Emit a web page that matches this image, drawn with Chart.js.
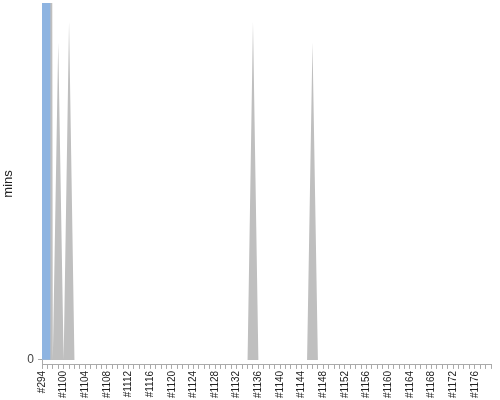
<!DOCTYPE html>
<html>
<head>
<meta charset="utf-8">
<script src="https://cdn.jsdelivr.net/npm/chart.js@4"></script>
<style>
  html, body { margin: 0; padding: 0; background: #fff; }
  #wrap { width: 500px; height: 400px; }
</style>
</head>
<body>
<div id="wrap"><canvas id="c" width="500" height="400"></canvas></div>
<script>
const builds = ['#294',
  '#1097','#1098','#1099','#1100','#1101','#1102','#1103','#1104','#1105','#1106',
  '#1107','#1108','#1109','#1110','#1111','#1112','#1113','#1114','#1115','#1116',
  '#1117','#1118','#1119','#1120','#1121','#1122','#1123','#1124','#1125','#1126',
  '#1127','#1128','#1129','#1130','#1131','#1132','#1133','#1134','#1135','#1136',
  '#1137','#1138','#1139','#1140','#1141','#1142','#1143','#1144','#1145','#1146',
  '#1147','#1148','#1149','#1150','#1151','#1152','#1153','#1154','#1155','#1156',
  '#1157','#1158','#1159','#1160','#1161','#1162','#1163','#1164','#1165','#1166',
  '#1167','#1168','#1169','#1170','#1171','#1172','#1173','#1174','#1175','#1176',
  '#1177','#1178','#1179'];

// gray area: build durations (mins)
const durationMins = [400,
  400,0,35.6,0,37.9,0,0,0,0,0,
  0,0,0,0,0,0,0,0,0,0,
  0,0,0,0,0,0,0,0,0,0,
  0,0,0,0,0,0,0,0,37.9,0,
  0,0,0,0,0,0,0,0,0,35.6,
  0,0,0,0,0,0,0,0,0,0,
  0,0,0,0,0,0,0,0,0,0,
  0,0,0,0,0,0,0,0,0,0,
  0,0,0];

// blue bar: current build (mins)
const currentMins = [400];

const yTicks = [0];
const yMax = 40;
const yMin = -0.565;

new Chart(document.getElementById('c'), {
  data: {
    labels: builds,
    datasets: [
      {
        type: 'bar',
        data: currentMins,
        backgroundColor: '#8eb4e1',
        borderWidth: 0,
        barThickness: 16,
        order: 0
      },
      {
        type: 'line',
        data: durationMins,
        backgroundColor: '#bfbfbf',
        borderWidth: 0,
        pointRadius: 0,
        tension: 0,
        fill: 'origin',
        order: 1
      }
    ]
  },
  options: {
    responsive: false,
    animation: false,
    layout: { padding: { top: 3, right: 9, left: 0, bottom: 0 } },
    plugins: { legend: { display: false }, tooltip: { enabled: false } },
    scales: {
      x: {
        offset: false,
        afterFit: function (s) { s.paddingRight = 0; s.paddingLeft = 0; },
        grid: { display: true, drawOnChartArea: false, tickLength: 4, color: '#aaaaaa', offset: false },
        border: { display: true, color: '#aaaaaa' },
        ticks: {
          autoSkip: false,
          minRotation: 90,
          maxRotation: 90,
          padding: 2,
          color: '#222222',
          font: { family: 'Liberation Sans', size: 10 },
          callback: function (v, i) { return i % 4 === 0 ? builds[i] : ''; }
        }
      },
      y: {
        min: yMin,
        max: yMax,
        afterBuildTicks: function (s) { s.ticks = yTicks.map(v => ({ value: v })); },
        afterFit: function (s) { s.width = 42; s.paddingTop = 0; s.paddingBottom = 0; },
        grid: { display: true, drawOnChartArea: false, tickLength: 4, color: '#aaaaaa' },
        border: { display: true, color: '#aaaaaa' },
        ticks: {
          padding: 4,
          color: '#444444',
          font: { family: 'Liberation Sans', size: 12 }
        },
        title: {
          display: true,
          text: 'mins',
          color: '#222222',
          padding: { top: 1, bottom: 0 },
          font: { family: 'Liberation Sans', size: 13 }
        }
      }
    }
  }
});
</script>
</body>
</html>
